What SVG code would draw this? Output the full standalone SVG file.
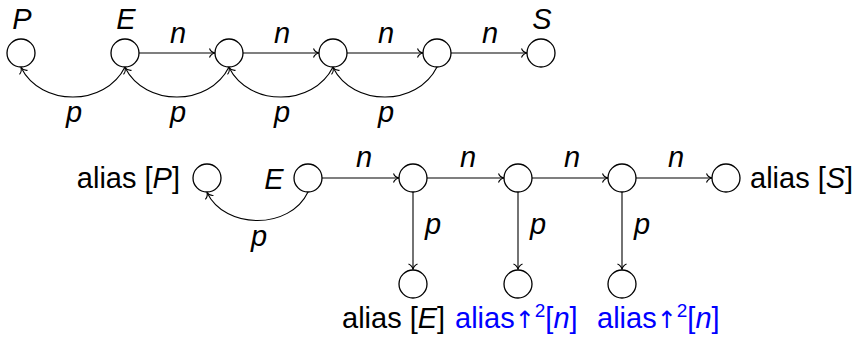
<svg xmlns="http://www.w3.org/2000/svg" width="853" height="337" viewBox="0 0 853 337">
<style>
  .node { fill: #fff; stroke: #000; stroke-width: 1.3; }
  .edge { fill: none; stroke: #000; stroke-width: 1.1; marker-end: url(#to); }
  text { font-family: "Liberation Sans", Arial, sans-serif; font-size: 29px; fill: #000; }
  .it { font-style: italic; }
  .mid { text-anchor: middle; }
  .blue { fill: #0000ff; }
  .arr { font-family: "DejaVu Sans", sans-serif; font-size: 24px; }
</style>
<defs>
  <marker id="to" markerUnits="userSpaceOnUse" markerWidth="12" markerHeight="12" viewBox="-7 -6 8 12" refX="0" refY="0" orient="auto">
    <path d="M -5.5,-4.5 C -4.5,-1.8 -1.8,-0.4 0,0 C -1.8,0.4 -4.5,1.8 -5.5,4.5" fill="none" stroke="#000" stroke-width="1.1"/>
  </marker>
</defs>

<g id="connectors">
  <!-- top n edges -->
  <path class="edge" d="M139,53 H215"/>
  <path class="edge" d="M243,53 H319"/>
  <path class="edge" d="M347,53 H423"/>
  <path class="edge" d="M451,53 H527"/>
  <!-- top p arcs -->
  <path class="edge" d="M125,67 C105,107 41,107 21,67.5"/>
  <path class="edge" d="M229,67 C209,107 145,107 125,67.5"/>
  <path class="edge" d="M333,67 C313,107 249,107 229,67.5"/>
  <path class="edge" d="M437,67 C417,107 353,107 333,67.5"/>
  <!-- bottom n edges -->
  <path class="edge" d="M322,178 H399"/>
  <path class="edge" d="M427,178 H504"/>
  <path class="edge" d="M532,178 H608"/>
  <path class="edge" d="M636,178 H712"/>
  <!-- bottom p arc -->
  <path class="edge" d="M308,192 C290,230 225,230 207,192.5"/>
  <!-- bottom p verticals -->
  <path class="edge" d="M413,192 V269.5"/>
  <path class="edge" d="M518,192 V269.5"/>
  <path class="edge" d="M622,192 V269.5"/>
  <!-- labels -->
  <g id="edge-labels">
    <text class="it mid" x="178" y="43">n</text>
    <text class="it mid" x="282" y="43">n</text>
    <text class="it mid" x="386" y="43">n</text>
    <text class="it mid" x="490" y="43">n</text>
    <text class="it mid" x="74" y="122">p</text>
    <text class="it mid" x="178" y="122">p</text>
    <text class="it mid" x="282" y="122">p</text>
    <text class="it mid" x="386" y="122">p</text>
    <text class="it mid" x="364" y="167">n</text>
    <text class="it mid" x="468" y="167">n</text>
    <text class="it mid" x="572" y="167">n</text>
    <text class="it mid" x="676" y="167">n</text>
    <text class="it mid" x="259" y="246">p</text>
    <text class="it mid" x="433" y="234">p</text>
    <text class="it mid" x="538" y="234">p</text>
    <text class="it mid" x="642" y="234">p</text>
  </g>
</g>

<g id="top-P"><circle class="node" cx="21" cy="53" r="14"/><text class="it mid" x="22" y="29">P</text></g>
<g id="top-E"><circle class="node" cx="125" cy="53" r="14"/><text class="it mid" x="126" y="29">E</text></g>
<g id="top-1"><circle class="node" cx="229" cy="53" r="14"/></g>
<g id="top-2"><circle class="node" cx="333" cy="53" r="14"/></g>
<g id="top-3"><circle class="node" cx="437" cy="53" r="14"/></g>
<g id="top-S"><circle class="node" cx="541" cy="53" r="14"/><text class="it mid" x="542" y="29">S</text></g>

<g id="bot-P"><circle class="node" cx="207" cy="178" r="14"/><text x="180" y="188" text-anchor="end">alias [<tspan class="it">P</tspan>]</text></g>
<g id="bot-E"><circle class="node" cx="308" cy="178" r="14"/><text class="it mid" x="274" y="189">E</text></g>
<g id="bot-1"><circle class="node" cx="413" cy="178" r="14"/></g>
<g id="bot-2"><circle class="node" cx="518" cy="178" r="14"/></g>
<g id="bot-3"><circle class="node" cx="622" cy="178" r="14"/></g>
<g id="bot-S"><circle class="node" cx="726" cy="178" r="14"/><text x="750" y="188">alias [<tspan class="it">S</tspan>]</text></g>

<g id="leaf-1"><circle class="node" cx="413" cy="284" r="14"/><text x="342" y="328">alias [<tspan class="it">E</tspan>]</text></g>
<g id="leaf-2"><circle class="node" cx="518" cy="284" r="14"/><text class="blue" x="455" y="328">alias<tspan class="arr">↑</tspan><tspan dy="-11" font-size="19">2</tspan><tspan dy="11">[</tspan><tspan class="it">n</tspan>]</text></g>
<g id="leaf-3"><circle class="node" cx="622" cy="284" r="14"/><text class="blue" x="597" y="328">alias<tspan class="arr">↑</tspan><tspan dy="-11" font-size="19">2</tspan><tspan dy="11">[</tspan><tspan class="it">n</tspan>]</text></g>
</svg>
